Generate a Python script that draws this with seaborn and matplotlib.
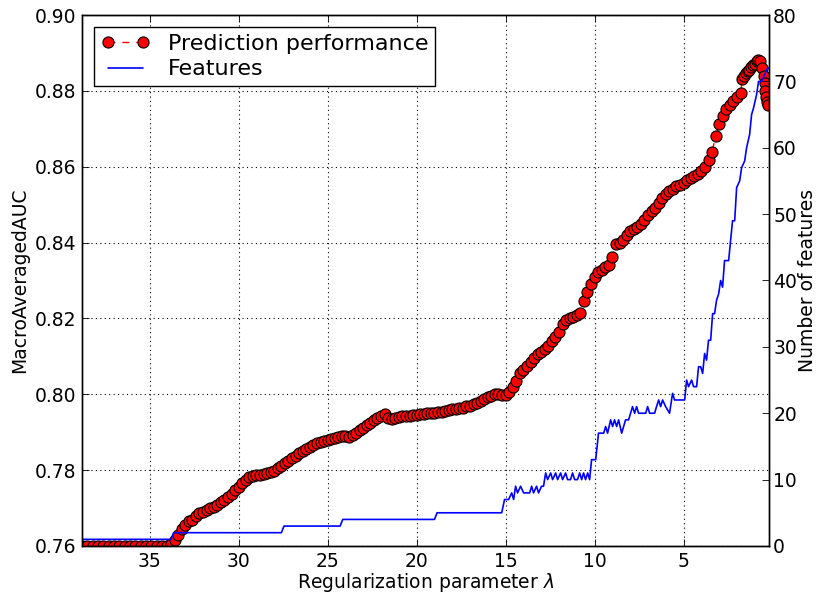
import numpy as np
import pandas as pd
import matplotlib
matplotlib.use("Agg")
import matplotlib.pyplot as plt
import seaborn as sns

# Prediction performance (MacroAveragedAUC) vs regularization parameter lambda
lam_auc = [38.8, 38.5, 38.2, 37.9, 37.6, 37.3, 37.0, 36.7, 36.4, 36.1, 35.8, 35.5, 35.2,
           34.9, 34.6, 34.3, 34.0,
           33.8, 33.6, 33.4, 33.2, 33.0, 32.8, 32.6, 32.4, 32.2, 32.0, 31.8, 31.6, 31.4,
           31.2, 31.0, 30.8, 30.6, 30.4, 30.2, 30.0, 29.8, 29.6, 29.4, 29.2, 29.0, 28.8,
           28.6, 28.4, 28.2, 28.0, 27.8, 27.6, 27.4, 27.2, 27.0, 26.8, 26.6, 26.4, 26.2,
           26.0, 25.8, 25.6, 25.4, 25.2, 25.0, 24.8, 24.6, 24.4, 24.2, 24.0, 23.8, 23.6,
           23.4, 23.2, 23.0, 22.8, 22.6, 22.4, 22.2, 22.0, 21.8, 21.6, 21.4, 21.2, 21.0,
           20.8, 20.6, 20.4, 20.2, 20.0, 19.8, 19.6, 19.4, 19.2, 19.0, 18.8, 18.6, 18.4,
           18.2, 18.0, 17.8, 17.6, 17.4, 17.2, 17.0, 16.8, 16.6, 16.4, 16.2, 16.0, 15.8,
           15.6, 15.4, 15.2, 15.0, 14.8, 14.6, 14.4, 14.2, 14.0, 13.8, 13.6, 13.4, 13.2,
           13.0, 12.8, 12.6, 12.4, 12.2, 12.0, 11.8, 11.6, 11.4, 11.2, 11.0, 10.8, 10.6,
           10.4, 10.2, 10.0, 9.8, 9.6, 9.4, 9.2, 9.0, 8.8, 8.6, 8.4, 8.2, 8.0, 7.8, 7.6,
           7.4, 7.2, 7.0, 6.8, 6.6, 6.4, 6.2, 6.0, 5.8, 5.6, 5.4, 5.2, 5.0, 4.8, 4.6, 4.4,
           4.2, 4.0, 3.8, 3.6, 3.4, 3.2, 3.0, 2.8, 2.6, 2.4, 2.2, 2.0, 1.8, 1.7, 1.6, 1.5,
           1.4, 1.3, 1.2, 1.1, 1.0, 0.9, 0.8, 0.7, 0.6, 0.5, 0.45, 0.4, 0.35, 0.3, 0.25]
auc = [0.7601, 0.7601, 0.7601, 0.7601, 0.7601, 0.7601, 0.7601, 0.7601, 0.7601, 0.7601,
       0.7601, 0.7601, 0.7601, 0.7601, 0.7601, 0.7601, 0.7601,
       0.7605, 0.7615, 0.7630, 0.7645, 0.7655, 0.7665, 0.7668, 0.7680, 0.7688, 0.7690,
       0.7695, 0.7700, 0.7702, 0.7708, 0.7715, 0.7722, 0.7730, 0.7738, 0.7748, 0.7755,
       0.7765, 0.7775, 0.7782, 0.7785, 0.7788, 0.7788, 0.7790, 0.7792, 0.7795, 0.7798,
       0.7805, 0.7812, 0.7820, 0.7825, 0.7832, 0.7838, 0.7845, 0.7850, 0.7855, 0.7860,
       0.7866, 0.7872, 0.7875, 0.7878, 0.7880, 0.7882, 0.7885, 0.7888, 0.7890, 0.7890,
       0.7888, 0.7892, 0.7898, 0.7905, 0.7912, 0.7918, 0.7925, 0.7932, 0.7938, 0.7942,
       0.7948, 0.7938, 0.7935, 0.7938, 0.7940, 0.7942, 0.7942, 0.7944, 0.7945, 0.7946,
       0.7948, 0.7948, 0.7950, 0.7950, 0.7951, 0.7952, 0.7954, 0.7956, 0.7958, 0.7960,
       0.7962, 0.7963, 0.7965, 0.7968, 0.7970, 0.7975, 0.7978, 0.7982, 0.7988, 0.7992,
       0.7995, 0.8000, 0.8002, 0.7998, 0.7998, 0.8005, 0.8020, 0.8035, 0.8055, 0.8065,
       0.8075, 0.8085, 0.8095, 0.8105, 0.8112, 0.8120, 0.8128, 0.8140, 0.8152, 0.8165,
       0.8185, 0.8195, 0.8202, 0.8205, 0.8210, 0.8215, 0.8245, 0.8270, 0.8290, 0.8310,
       0.8322, 0.8328, 0.8335, 0.8342, 0.8362, 0.8395, 0.8400, 0.8408, 0.8420, 0.8430,
       0.8436, 0.8442, 0.8450, 0.8460, 0.8472, 0.8484, 0.8492, 0.8505, 0.8518, 0.8528,
       0.8535, 0.8542, 0.8548, 0.8552, 0.8556, 0.8565, 0.8570, 0.8575, 0.8580, 0.8588,
       0.8600, 0.8618, 0.8640, 0.8680, 0.8712, 0.8735, 0.8752, 0.8762, 0.8772, 0.8785,
       0.8795, 0.8830, 0.8840, 0.8848, 0.8852, 0.8856, 0.8862, 0.8868, 0.8872, 0.8880,
       0.8882, 0.8878, 0.8860, 0.8840, 0.8822, 0.8800, 0.8785, 0.8770, 0.8762]

# Number of selected features vs lambda
lam_feat = [38.8, 33.8, 33.65, 27.6, 27.45, 24.3, 24.15, 19.0, 18.85, 15.22, 15.06, 14.83,
            14.66, 14.55, 14.44, 14.33, 14.16, 13.99, 13.65, 13.54, 13.43, 13.26, 13.15,
            12.98, 12.87, 12.75, 12.64, 12.47, 12.36, 12.19, 12.08, 11.91, 11.80, 11.63,
            11.52, 11.35, 11.24, 11.12, 10.96, 10.84, 10.73, 10.62, 10.51, 10.39, 10.28,
            10.17, 9.94, 9.78, 9.49, 9.38, 9.27, 9.10, 8.99, 8.88, 8.76, 8.65, 8.48, 8.26,
            8.09, 7.98, 7.87, 7.75, 7.64, 7.53, 7.13, 7.02, 6.91, 6.63, 6.52, 6.40, 6.29,
            6.18, 6.01, 5.79, 5.62, 5.51, 4.94, 4.83, 4.72, 4.55, 4.44, 4.27, 4.16, 4.04,
            3.93, 3.82, 3.71, 3.60, 3.48, 3.37, 3.26, 3.15, 3.03, 2.92, 2.81, 2.70, 2.47,
            2.36, 2.25, 2.13, 2.02, 1.85, 1.74, 1.57, 1.46, 1.29, 1.18, 1.07, 0.90, 0.79,
            0.62, 0.45, 0.28, 0.17]
feat = [1, 1, 2, 2, 3, 3, 4, 4, 5, 5, 7, 7,
        8, 7, 9, 8, 9, 8, 8, 9, 8, 9, 8,
        9, 9, 11, 10, 11, 10, 11, 10, 11, 10, 11,
        10, 10, 11, 10, 10, 11, 10, 11, 10, 11, 10,
        13, 13, 17, 17, 18, 17, 19, 18, 19, 18, 19, 17, 19,
        19, 20, 21, 20, 21, 20, 20, 21, 20, 20, 21, 22, 21,
        22, 21, 20, 23, 22, 22, 25, 24, 25, 24, 24, 27, 27,
        26, 29, 28, 31, 31, 35, 35, 37, 38, 40, 39, 43, 43,
        46, 49, 49, 54, 55, 57, 58, 60, 62, 65, 66, 68, 70,
        70, 71, 72, 72]

df_auc = pd.DataFrame({"lam": lam_auc, "auc": auc})
df_feat = pd.DataFrame({"lam": lam_feat, "feat": feat})

sns.set_style("white")
FS = 13.5
plt.rcParams.update({
    "font.family": ["DejaVu Sans"],
    "font.size": FS,
    "xtick.direction": "in",
    "ytick.direction": "in",
    "xtick.major.size": 5,
    "ytick.major.size": 5,
    "xtick.major.width": 0.6,
    "ytick.major.width": 0.6,
    "axes.linewidth": 1.0,
    "axes.edgecolor": "black",
    "xtick.color": "black",
    "ytick.color": "black",
    "axes.labelcolor": "black",
    "text.color": "black",
    "xtick.labelsize": FS,
    "ytick.labelsize": FS,
})

fig = plt.figure(figsize=(8.21, 5.93), dpi=100)
ax = fig.add_axes([0.0999, 0.0793, 0.8368, 0.8954])
ax2 = ax.twinx()

sns.lineplot(data=df_auc, x="lam", y="auc", ax=ax, sort=False, estimator=None,
             color="red", linestyle=(0, (5, 5)), linewidth=1.0, marker="o", markersize=8,
             markeredgecolor="black", markeredgewidth=0.8,
             label="Prediction performance", legend=False)
sns.lineplot(data=df_feat, x="lam", y="feat", ax=ax2, sort=False, estimator=None,
             color="blue", linewidth=1.2, label="Features", legend=False)

ax.set_xlim(38.8, 0.2)
ax.set_ylim(0.76, 0.90)
ax2.set_ylim(0, 80)
ax.set_xticks([35, 30, 25, 20, 15, 10, 5])
yt = [0.76, 0.78, 0.80, 0.82, 0.84, 0.86, 0.88, 0.90]
ax.set_yticks(yt)
ax.set_yticklabels(["%.2f" % v for v in yt])
ax2.set_yticks([0, 10, 20, 30, 40, 50, 60, 70, 80])

ax.xaxis.set_ticks_position("both")
ax.yaxis.set_ticks_position("left")
ax2.yaxis.set_ticks_position("right")
ax.tick_params(axis="x", which="both", top=True, bottom=True, pad=4)
ax.tick_params(axis="y", pad=4)
ax2.tick_params(axis="y", pad=3)

ax.grid(True, color="black", linestyle=(0, (1, 3)), linewidth=0.8)
ax2.grid(False)

ax.set_xlabel(r"Regularization parameter $\lambda$", fontsize=FS, labelpad=0)
ax.set_ylabel("MacroAveragedAUC", fontsize=FS, labelpad=4)
ax2.set_ylabel("Number of features", fontsize=FS, labelpad=1)

for a in (ax, ax2):
    for s in a.spines.values():
        s.set_visible(True)
        s.set_color("black")

h1, l1 = ax.get_legend_handles_labels()
h2, l2 = ax2.get_legend_handles_labels()
leg = ax2.legend(h1 + h2, l1 + l2, loc="upper left", fontsize=16, numpoints=2,
                 fancybox=False, framealpha=1, edgecolor="black",
                 borderaxespad=0.55, handlelength=2.2, borderpad=0.3,
                 labelspacing=0.25, handletextpad=0.8)
leg.get_frame().set_linewidth(1.0)

fig.savefig("out.png", dpi=100, facecolor="white")
